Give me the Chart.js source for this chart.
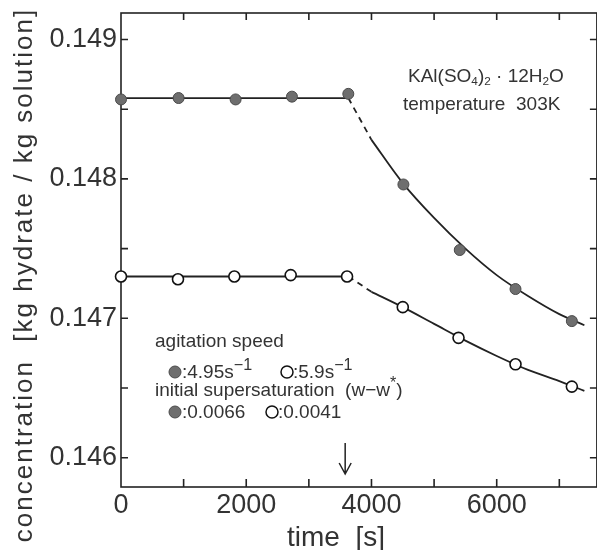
<!DOCTYPE html>
<html>
<head>
<meta charset="utf-8">
<script src="https://cdn.jsdelivr.net/npm/chart.js@4"></script>
<style>
  html, body { margin: 0; padding: 0; background: #fff; overflow: hidden; }
  #wrap { width: 604px; height: 550px; }
</style>
</head>
<body>
<div id="wrap"><canvas id="chart"></canvas></div>
<script>
// measured points, agitation 4.95 s-1 (filled) and 5.9 s-1 (open)
const timeFilled = [0, 920, 1830, 2730, 3630, 4510, 5410, 6300, 7200];
const concFilled = [0.14857, 0.14858, 0.14857, 0.14859, 0.14861, 0.14796, 0.14749, 0.14721, 0.14698];
const timeOpen = [0, 910, 1810, 2710, 3610, 4500, 5390, 6300, 7200];
const concOpen = [0.14730, 0.14728, 0.14730, 0.14731, 0.14730, 0.14708, 0.14686, 0.14667, 0.14651];

// fitted lines
const flatTime = [0, 3630];
const flatFilled = [0.14858, 0.14858];
const flatOpen = [0.14730, 0.14730];
const dashTime = [3630, 4000];
const dashFilled = [0.14858, 0.14828];
const dashOpen = [0.14730, 0.14719];
const curveTime = [4000, 4500, 5000, 5500, 6000, 6500, 7000, 7400];
const curveFilled = [0.14828, 0.14797, 0.14772, 0.14750, 0.14731, 0.14716, 0.14703, 0.14695];
const curveOpen = [0.14719, 0.14708, 0.14696, 0.14684, 0.14673, 0.14663, 0.14655, 0.14648];

// ticks (only the even ones get a label)
const timeTicks = [0, 1000, 2000, 3000, 4000, 5000, 6000, 7000];
const timeLabels = ["0", "", "2000", "", "4000", "", "6000", ""];
const concTicks = [0.146, 0.1465, 0.147, 0.1475, 0.148, 0.1485, 0.149];
const concLabels = ["0.146", "", "0.147", "", "0.148", "", "0.149"];

const arrowTime = 3580;

const ink = "#222";
const txt = "#333";
const sans = '"Liberation Sans", Arial, sans-serif';
Chart.defaults.font.family = sans;
Chart.defaults.color = txt;

const pts = (xs, ys) => xs.map((x, i) => ({ x: x, y: ys[i] }));

function fitLine(xs, ys, dashed, smooth) {
  return {
    data: pts(xs, ys),
    borderColor: ink,
    borderWidth: 1.8,
    borderDash: dashed ? [6, 5] : [],
    pointRadius: 0,
    fill: false,
    cubicInterpolationMode: smooth ? "monotone" : "default",
    tension: 0
  };
}

// text with sub/superscript runs
function drawRuns(ctx, x, y, runs, size) {
  runs.forEach(([s, kind]) => {
    let fs = size, dy = 0;
    if (kind === "sub") { fs = size * 0.62; dy = size * 0.18; }
    if (kind === "sup") { fs = size * 0.85; dy = -size * 0.42; }
    ctx.font = fs + "px " + sans;
    ctx.fillText(s, x, y + dy);
    x += ctx.measureText(s).width;
  });
  return x;
}

function dot(ctx, x, y, filled) {
  ctx.beginPath();
  ctx.arc(x, y, 6, 0, Math.PI * 2);
  ctx.fillStyle = filled ? "#6e6e6e" : "#fff";
  ctx.fill();
  ctx.lineWidth = filled ? 1 : 1.5;
  ctx.strokeStyle = filled ? "#4a4a4a" : "#111";
  ctx.stroke();
}

const framePlugin = {
  id: "frame",
  beforeDatasetsDraw(chart) {
    const { ctx, chartArea: a, scales: { x, y } } = chart;
    ctx.save();
    ctx.strokeStyle = ink;
    ctx.lineWidth = 1.6;
    ctx.strokeRect(a.left, a.top, a.right - a.left, a.bottom - a.top);
    ctx.beginPath();
    x.ticks.forEach(t => {
      const px = x.getPixelForValue(t.value);
      if (px <= a.left + 1) return;
      ctx.moveTo(px, a.bottom); ctx.lineTo(px, a.bottom - 8);
      ctx.moveTo(px, a.top); ctx.lineTo(px, a.top + 7);
    });
    y.ticks.forEach(t => {
      const py = y.getPixelForValue(t.value);
      ctx.moveTo(a.left, py); ctx.lineTo(a.left + 7, py);
      ctx.moveTo(a.right, py); ctx.lineTo(a.right - 7, py);
    });
    ctx.stroke();
    ctx.restore();
  },
  afterDraw(chart) {
    const { ctx, scales: { x } } = chart;
    ctx.save();
    ctx.fillStyle = txt;
    ctx.textBaseline = "alphabetic";

    // axis titles
    ctx.font = "28px " + sans;
    ctx.textAlign = "center";
    ctx.fillText("time  [s]", 336, 546);
    ctx.save();
    ctx.translate(32, 275);
    ctx.rotate(-Math.PI / 2);
    ctx.font = "26px " + sans;
    ctx.letterSpacing = "2px";
    ctx.fillText("concentration  [kg hydrate / kg solution]", 0, 0);
    ctx.restore();
    ctx.textAlign = "left";

    // substance / temperature
    drawRuns(ctx, 408, 82, [["KAl(SO", ""], ["4", "sub"], [")", ""], ["2", "sub"],
      [" \u00b7 12H", ""], ["2", "sub"], ["O", ""]], 19);
    drawRuns(ctx, 403, 110, [["temperature  303K", ""]], 19);

    // key
    drawRuns(ctx, 155, 347, [["agitation speed", ""]], 19);
    dot(ctx, 175, 372, true);
    ctx.fillStyle = txt;
    drawRuns(ctx, 182, 378, [[":4.95s", ""], ["\u22121", "sup"]], 19);
    dot(ctx, 287, 372, false);
    ctx.fillStyle = txt;
    drawRuns(ctx, 293, 378, [[":5.9s", ""], ["\u22121", "sup"]], 19);
    drawRuns(ctx, 155, 396, [["initial supersaturation  (w\u2212w", ""], ["*", "sup"], [")", ""]], 19);
    dot(ctx, 175, 412, true);
    ctx.fillStyle = txt;
    drawRuns(ctx, 182, 418, [[":0.0066", ""]], 19);
    dot(ctx, 272, 412, false);
    ctx.fillStyle = txt;
    drawRuns(ctx, 278, 418, [[":0.0041", ""]], 19);

    // arrow marking the start of the decline
    const ax = x.getPixelForValue(arrowTime);
    ctx.strokeStyle = ink;
    ctx.lineWidth = 1.5;
    ctx.beginPath();
    ctx.moveTo(ax, 443); ctx.lineTo(ax, 474);
    ctx.moveTo(ax - 6, 463); ctx.lineTo(ax, 474); ctx.lineTo(ax + 6, 463);
    ctx.stroke();
    ctx.restore();
  }
};

new Chart(document.getElementById("chart"), {
  type: "line",
  data: {
    datasets: [
      {
        data: pts(timeFilled, concFilled),
        showLine: false,
        pointRadius: 5.5,
        pointBackgroundColor: "#6e6e6e",
        pointBorderColor: "#4a4a4a",
        pointBorderWidth: 1,
        clip: false
      },
      {
        data: pts(timeOpen, concOpen),
        showLine: false,
        pointRadius: 5.5,
        pointBackgroundColor: "#fff",
        pointBorderColor: "#111",
        pointBorderWidth: 1.6,
        clip: false
      },
      fitLine(flatTime, flatFilled, false, false),
      fitLine(dashTime, dashFilled, true, false),
      fitLine(curveTime, curveFilled, false, true),
      fitLine(flatTime, flatOpen, false, false),
      fitLine(dashTime, dashOpen, true, false),
      fitLine(curveTime, curveOpen, false, true)
    ]
  },
  options: {
    responsive: true,
    maintainAspectRatio: false,
    animation: false,
    layout: { padding: { left: 0, top: 13, right: 4, bottom: 0 } },
    plugins: { legend: { display: false }, tooltip: { enabled: false } },
    scales: {
      x: {
        type: "linear",
        min: 0,
        max: 7600,
        grid: { display: false, drawTicks: false },
        border: { display: false },
        ticks: {
          autoSkip: false,
          maxRotation: 0,
          padding: 2,
          font: { size: 27 },
          color: txt,
          callback: (v, i) => timeLabels[i]
        },
        afterBuildTicks: s => { s.ticks = timeTicks.map(v => ({ value: v })); },
        afterFit: s => {
          s.height = 63;
          s.paddingLeft = 0;
          s.paddingRight = 0;
        }
      },
      y: {
        min: 0.14579,
        max: 0.14919,
        grid: { display: false, drawTicks: false },
        border: { display: false },
        ticks: {
          autoSkip: false,
          padding: 4,
          font: { size: 27 },
          color: txt,
          callback: (v, i) => concLabels[i]
        },
        afterBuildTicks: s => { s.ticks = concTicks.map(v => ({ value: v })); },
        afterFit: s => {
          s.width = 121;
          s.paddingTop = 0;
          s.paddingBottom = 0;
        }
      }
    }
  },
  plugins: [framePlugin]
});
</script>
</body>
</html>
